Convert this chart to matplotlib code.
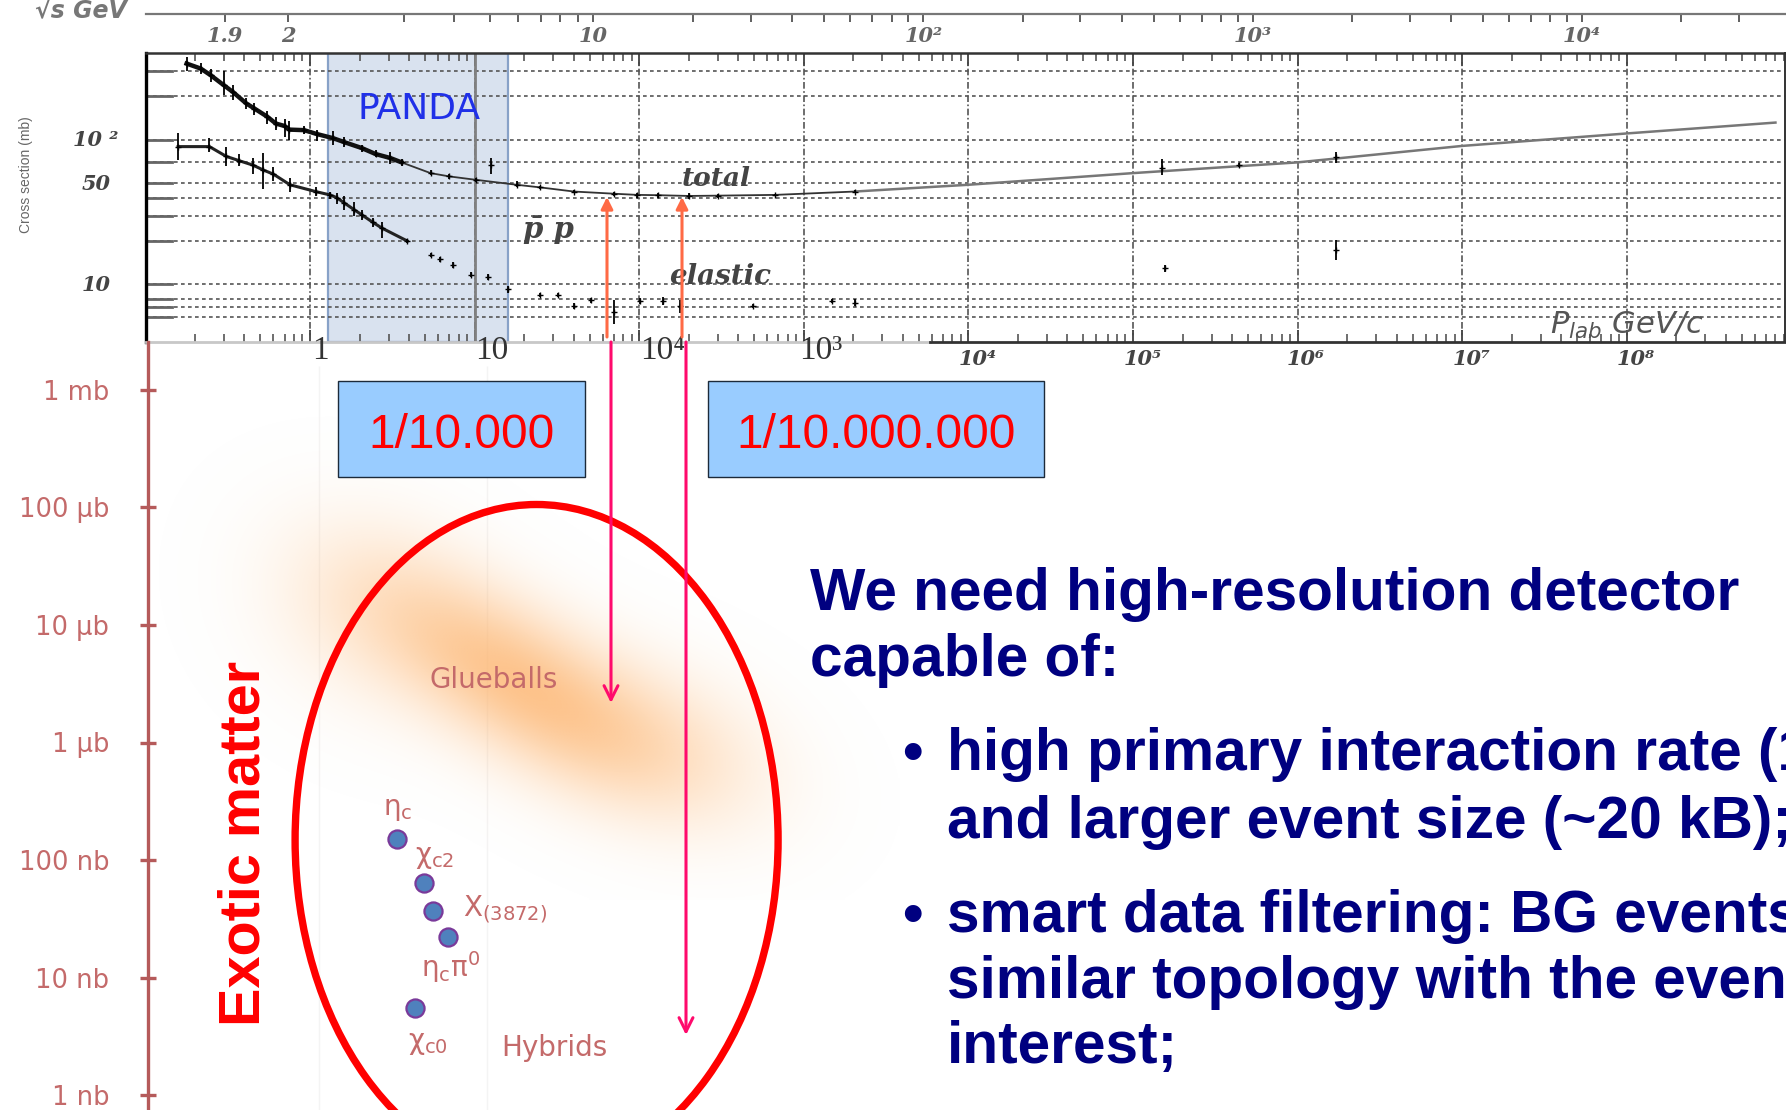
import numpy as np
import matplotlib
matplotlib.use("Agg")
import matplotlib.pyplot as plt
from matplotlib.patches import Ellipse, Rectangle

W, H = 1786, 1110
TOP, BOTTOM, LEFT, RIGHT = 53, 342, 146, 1785

# total cross section (plab GeV/c, mb, low, high)
total_p = [0.178, 0.217, 0.25, 0.30, 0.34, 0.41, 0.46, 0.55, 0.62, 0.70, 0.75, 0.92, 1.1, 1.38, 1.6, 2.06, 2.5, 3.08, 3.6,
           5.4, 7.0, 10.2, 18, 25, 40, 70, 97, 130, 200, 300, 670, 2050]
total_s = [338, 312, 280, 239, 215, 179, 165, 145, 130, 125, 118, 117, 110, 103, 97, 88, 80, 75, 70,
           59, 56, 53, 49, 47, 44, 42.5, 41.7, 41.5, 41, 41.2, 41.7, 44]
total_lo = [300, 285, 250, 205, 190, 165, 150, 130, 118, 105, 100, 110, 98, 92, 90, 83, 76, 68, 66,
            57, 54, 51, 47, 46, 43, 41, 40, 40, 39, 40, 41, 43]
total_hi = [375, 340, 310, 300, 240, 195, 180, 160, 145, 140, 135, 124, 118, 116, 105, 93, 85, 82, 74,
            62, 58, 55, 52, 48, 45, 44, 43, 43, 43, 42.5, 42.5, 45]

# high energy end of the total curve
total_high_p = [2050, 1e4, 1e5, 1e6, 1e7, 1e8, 8e8]
total_high_s = [44, 49, 59, 70, 91, 111, 132]
total_extra_p = [12.6, 1.5e5, 4.4e5, 1.7e6]
total_extra_s = [67, 64, 67, 76]
total_extra_lo = [58, 57, 65, 69]
total_extra_hi = [75, 74, 69, 83]

# elastic cross section
elastic_p = [0.158, 0.245, 0.31, 0.37, 0.45, 0.52, 0.6, 0.755, 1.08, 1.32, 1.45, 1.62, 1.85, 2.06, 2.4, 2.73, 3.9, 5.4, 6.2,
             7.4, 9.5, 12, 16, 25, 32, 40, 51, 70, 101, 139, 178, 488, 1490, 2050, 1.56e5, 1.7e6]
elastic_s = [90, 90, 77, 72, 67, 62, 58, 49, 44, 41.7, 40, 36.6, 33, 30.4, 27, 24.6, 20, 16, 15,
             13.7, 11.7, 11.3, 9.3, 8.5, 8.5, 7.1, 7.8, 6.5, 7.7, 7.7, 7.1, 7.1, 7.7, 7.5, 13, 17.4]
elastic_lo = [73, 82, 66, 66, 58, 46, 52, 44, 41, 39, 36, 33, 30, 28, 25, 21, 19.4, 15.4, 14.4,
              13, 11.2, 10.8, 8.8, 8.2, 8.2, 6.8, 7.5, 5.3, 7.3, 7.2, 6.4, 6.9, 7.4, 7.1, 12.3, 14.8]
elastic_hi = [111, 104, 90, 80, 75, 81, 65, 55, 47, 44, 43, 41, 37, 33, 29, 27, 20.6, 16.6, 15.6,
              14.4, 12.2, 11.8, 9.8, 8.8, 8.8, 7.4, 8.1, 7.8, 8.1, 8.2, 7.8, 7.3, 8, 7.9, 13.7, 20.4]

grid_sigma = [6, 7, 8, 10, 20, 30, 40, 50, 70, 100, 200, 300]
sigma_labels = {100: "10 ²", 50: "50", 10: "10"}
plab_decades = [1, 10, 100, 1e3, 1e4, 1e5, 1e6, 1e7, 1e8]
panda_range = (1.29, 15.9)

sqrts_major = [1.9, 2, 10, 100, 1000, 10000]
sqrts_labels = ["1.9", "2", "10", "10²", "10³", "10⁴"]
sqrts_minor = [3, 4, 5, 6, 7, 8, 9, 20, 30, 40, 50, 60, 70, 80, 90,
               200, 300, 400, 500, 600, 700, 800, 900, 2000, 3000, 4000, 5000, 6000, 7000, 8000, 9000,
               20000, 30000]

low_ticks = [1e6, 1e5, 1e4, 1e3, 1e2, 10, 1]
low_labels = ["1 mb", "100 µb", "10 µb", "1 µb", "100 nb", "10 nb", "1 nb"]

# charmonium states, lower panel
state_x = [397, 424, 433, 448, 415]
state_nb = [151, 64, 37, 22, 5.5]

MP = 0.938


def plab_to_sqrts(p):
    p = np.asarray(p, dtype=float)
    return np.sqrt(2 * MP**2 + 2 * MP * np.sqrt(MP**2 + np.maximum(p, 1e-6)**2))


def sqrts_to_plab(r):
    r = np.asarray(r, dtype=float)
    e = (np.maximum(r, 1.877)**2 - 2 * MP**2) / (2 * MP)
    return np.sqrt(np.maximum(e**2 - MP**2, 1e-12))


plt.rcParams["font.family"] = ["Liberation Sans", "DejaVu Sans"]
fig = plt.figure(figsize=(W / 100, H / 100), dpi=100, facecolor="white")

# upper panel
ax = fig.add_axes([LEFT / W, 1 - BOTTOM / H, (RIGHT - LEFT) / W, (BOTTOM - TOP) / H])
ax.set_xscale("log")
ax.set_yscale("log")
ax.set_xlim(10**((LEFT - 310) / 164.6), 10**((RIGHT - 310) / 164.6))
ax.set_ylim(4, 400)
ax.axvspan(*panda_range, facecolor="#d9e2ef", edgecolor="#88a2c8", lw=1.6, zorder=1)
for s in grid_sigma:
    ax.axhline(s, color="#555555", lw=1.2, ls=(0, (2.2, 2)), zorder=2)
    ax.plot([ax.get_xlim()[0], 10**((LEFT + 26 - 310) / 164.6)], [s, s], color="#666666", lw=2, zorder=2)
for p in plab_decades:
    ax.axvline(p, color="#555555", lw=1.2, ls=(0, (4, 1.5, 1, 1.5)), zorder=2)
ax.axvline(10, color="#808080", lw=2, zorder=2)

ax.plot(total_p, total_s, color="#333333", lw=1.3, zorder=3)
ax.plot(total_p[:19], total_s[:19], color="#111111", lw=3.2, zorder=3)
ax.plot(total_high_p, total_high_s, color="#777777", lw=1.8, zorder=3)
for xs, ys, lo, hi in [(total_p, total_s, total_lo, total_hi),
                       (total_extra_p, total_extra_s, total_extra_lo, total_extra_hi),
                       (elastic_p, elastic_s, elastic_lo, elastic_hi)]:
    ax.vlines(xs, lo, hi, color="black", lw=1.3, zorder=4)
    ax.plot(xs, ys, ls="none", marker="+", ms=5, mew=1, color="black", zorder=4)
ax.plot(elastic_p[:17], elastic_s[:17], color="#222222", lw=2.2, zorder=3)

ax.xaxis.set_major_locator(matplotlib.ticker.LogLocator(base=10, numticks=12))
ax.xaxis.set_minor_locator(matplotlib.ticker.LogLocator(base=10, subs=range(2, 10), numticks=12))
ax.xaxis.set_minor_formatter(matplotlib.ticker.NullFormatter())
ax.set_xticklabels([])
ax.tick_params(axis="x", which="major", direction="in", top=True, bottom=True, length=9, width=1.4, color="#444444")
ax.tick_params(axis="x", which="minor", direction="in", top=True, bottom=True, length=6, width=1.2, color="#555555")
ax.yaxis.set_major_locator(matplotlib.ticker.NullLocator())
ax.yaxis.set_minor_locator(matplotlib.ticker.NullLocator())
for side, lw, col in [("left", 2.4, "black"), ("top", 1.8, "#333333"), ("right", 1.4, "#333333"), ("bottom", 0, "white")]:
    ax.spines[side].set_linewidth(lw)
    ax.spines[side].set_color(col)
ax.spines["bottom"].set_visible(False)
ax.plot([ax.get_xlim()[0], 10**((930 - 310) / 164.6)], [4, 4], color="#c8c8c8", lw=2, clip_on=False, zorder=5)
ax.plot([10**((930 - 310) / 164.6), ax.get_xlim()[1]], [4, 4], color="#333333", lw=2, clip_on=False, zorder=5)

# sqrt(s) scale on top
sec = ax.secondary_xaxis((BOTTOM - 14) / (BOTTOM - TOP), functions=(plab_to_sqrts, sqrts_to_plab))
sec.set_alignment("bottom")
sec.set_xticks(sqrts_major, sqrts_labels, fontsize=15, fontstyle="italic", fontweight="bold",
               color="#666666", family="DejaVu Serif")
sec.set_xticks(sqrts_minor, minor=True)
sec.xaxis.set_minor_formatter(matplotlib.ticker.NullFormatter())
sec.tick_params(axis="x", which="major", direction="out", length=6, width=1.2, color="#444444", pad=3)
sec.tick_params(axis="x", which="minor", direction="out", length=6, width=1.2, color="#444444")
sec.spines["bottom"].set_linewidth(1.6)
sec.spines["bottom"].set_color("#777777")

# full figure overlay in pixels
ov = fig.add_axes([0, 0, 1, 1], facecolor="none")
ov.set_xlim(0, W)
ov.set_ylim(H, 0)
ov.axis("off")
ov.set_zorder(5)

stretched = dict(family="DejaVu Serif", fontstyle="italic", fontweight="bold", color="#444444", ha="center", va="center")
ov.text(81, 10, "√s GeV", fontsize=17, fontstyle="italic", fontweight="bold", color="#777777", ha="center", va="center", family="DejaVu Sans")
ov.text(26, 175, "Cross section (mb)", rotation=90, fontsize=10, color="#666666", ha="center", va="center")
for s, txt in sigma_labels.items():
    y = 140 + (2 - np.log10(s)) * 145
    ov.text(96, y, txt, fontsize=15, **stretched)
ov.text(419, 109, "PANDA", fontsize=26, color="#2030e8", ha="center", va="center", family="DejaVu Sans")
ov.text(716, 179, "total", fontsize=19, **stretched)
ov.text(720, 277, "elastic", fontsize=20, **stretched)
ov.text(548, 230, "p̄ p", fontsize=21, **stretched)
ov.text(1627, 325, "P$_{lab}$ GeV/c", fontsize=22, fontstyle="italic", color="#555555", ha="center", va="center", family="DejaVu Sans")

serif = dict(family=["Liberation Serif", "DejaVu Serif"], fontsize=24, color="#333333", ha="center", va="center")
for x, txt in zip([320, 492, 663, 821], ["1", "10", "10⁴", "10³"]):
    ov.text(x, 351, txt, **serif)
for p, x in zip(["10⁴", "10⁵", "10⁶", "10⁷", "10⁸"], [978, 1143, 1306, 1472, 1636]):
    ov.text(x, 359, p, fontsize=15, **stretched)

# lower panel
low = fig.add_axes([0, 0, 1, 1 - BOTTOM / H], facecolor="none")
low.set_xlim(0, W)
low.set_yscale("log")
low.set_ylim(10**(-(H - 1095) / 117.5), 10**((390 - BOTTOM) / 117.5 + 6))
for side in ["top", "right", "bottom"]:
    low.spines[side].set_visible(False)
low.spines["left"].set_position(("data", 148))
low.spines["left"].set_color("#b55a5a")
low.spines["left"].set_linewidth(2.4)
low.xaxis.set_major_locator(matplotlib.ticker.NullLocator())
low.yaxis.set_minor_locator(matplotlib.ticker.NullLocator())
low.set_yticks(low_ticks, low_labels, fontsize=18.5, color="#c46a6a", family="DejaVu Sans")
low.tick_params(axis="y", which="major", direction="inout", length=11, width=2.4, color="#b55a5a", pad=22.5)
low.vlines([319, 487], 1e-2, 10**6.2, color="#f4f4f4", lw=1, zorder=0)
low.scatter(state_x, state_nb, s=170, facecolor="#4f81bd", edgecolor="#7a3a9a", linewidth=1.6, zorder=4)

# orange glueball band
xx, yy = np.meshgrid(np.arange(150, 900, 3), np.arange(400, 900, 3))
def blob(cx, cy, la, lb, ang):
    c, s = np.cos(np.radians(ang)), np.sin(np.radians(ang))
    u = (xx - cx) * c + (yy - cy) * s
    v = -(xx - cx) * s + (yy - cy) * c
    return np.exp(-(u / la)**2 - (v / lb)**2)
alpha = np.clip(0.72 * blob(515, 680, 150, 68, 33) + 0.22 * blob(370, 610, 110, 90, 30) + 0.3 * blob(660, 745, 120, 75, 22), 0, 0.85)
rgba = np.zeros(alpha.shape + (4,))
rgba[..., :3] = np.array([253, 180, 110]) / 255
rgba[..., 3] = alpha
ov.imshow(rgba, extent=(150, 900, 900, 400), aspect="auto", zorder=0, interpolation="bilinear")
ov.set_xlim(0, W)
ov.set_ylim(H, 0)

for x0, x1, txt in [(338, 585, "1/10.000"), (708, 1044, "1/10.000.000")]:
    ov.add_patch(Rectangle((x0, 381), x1 - x0, 96, facecolor="#99ccff", edgecolor="#1c2a3a", lw=1, zorder=3))
    ov.text((x0 + x1) / 2, 435, txt, fontsize=34.5, color="#ff0000", ha="center", va="center", zorder=4)

ov.add_patch(Ellipse((536.6, 840), 483, 671, facecolor="none", edgecolor="#ff0000", lw=5.3, zorder=3))
ov.text(244, 843, "Exotic matter", rotation=90, fontsize=41.5, fontweight="bold", color="#ff0000", ha="center", va="center")

for x, y in [(607, 197), (682, 197)]:
    ov.annotate("", xy=(x, y), xytext=(x, 337), zorder=6,
                arrowprops=dict(arrowstyle="-|>,head_width=0.35,head_length=0.7", color="#ff6a45", lw=2.2, shrinkA=0, shrinkB=0))
for x, y in [(611, 703), (686, 1035)]:
    ov.annotate("", xy=(x, y), xytext=(x, 342), zorder=6,
                arrowprops=dict(arrowstyle="->,head_width=0.5,head_length=1.0", color="#ff0a6c", lw=2.2, shrinkA=0, shrinkB=0))

lab = dict(color="#c46a6a", ha="center", va="center", family="DejaVu Sans", zorder=5)
ov.text(494, 680, "Glueballs", fontsize=20, **lab)
ov.text(554, 1048, "Hybrids", fontsize=20, **lab)
ov.text(398, 809, r"$\mathregular{\eta_c}$", fontsize=20, **lab)
ov.text(435, 857, r"$\mathregular{\chi_{c2}}$", fontsize=20, **lab)
ov.text(505, 909, r"$\mathregular{X_{(3872)}}$", fontsize=20, **lab)
ov.text(451, 967, r"$\mathregular{\eta_c\pi^0}$", fontsize=20, **lab)
ov.text(428, 1043, r"$\mathregular{\chi_{c0}}$", fontsize=20, **lab)

navy = dict(color="#000080", fontweight="bold", fontsize=42.2, va="center", ha="left", family="Liberation Sans")
ov.text(810, 594, "We need high-resolution detector", **navy)
ov.text(810, 660, "capable of:", **navy)
ov.text(902, 755, "•", **navy)
ov.text(947, 755, "high primary interaction rate (1", **navy)
ov.text(947, 822, "and larger event size (~20 kB);", **navy)
ov.text(902, 917, "•", **navy)
ov.text(947, 917, "smart data filtering: BG events", **navy)
ov.text(947, 983, "similar topology with the even", **navy)
ov.text(947, 1047, "interest;", **navy)

fig.savefig("out.png", dpi=100)
